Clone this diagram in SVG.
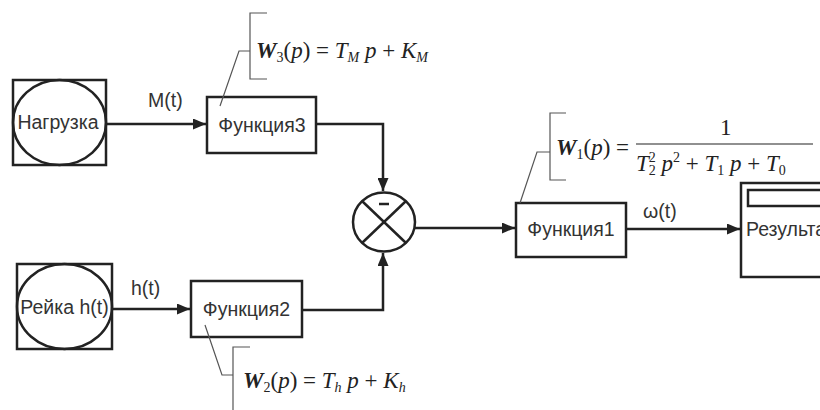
<svg xmlns="http://www.w3.org/2000/svg" width="820" height="410" viewBox="0 0 820 410">
<defs>
<marker id="ah" markerWidth="13" markerHeight="11" refX="13" refY="5.5" orient="auto" markerUnits="userSpaceOnUse">
<path d="M0,0 L13,5.5 L0,11 Z" fill="#222"/>
</marker>
<style>
.bx{fill:#fff;stroke:#222;stroke-width:2.5}
.ln{fill:none;stroke:#222;stroke-width:2.5}
.ann{fill:none;stroke:#555;stroke-width:1.2}
.t{font-family:"Liberation Sans",Arial,sans-serif;font-size:19.5px;fill:#333}
.f{font-family:"Liberation Serif","Times New Roman",serif;font-size:23px;fill:#222}
.i{font-style:italic}
.s{font-size:14px}
</style>
</defs>
<rect width="820" height="410" fill="#fff"/>
<g id="connectors">
<line class="ln" x1="106" y1="124" x2="206" y2="124" marker-end="url(#ah)"/>
<polyline class="ln" points="316,124 383,124 383,191" marker-end="url(#ah)"/>
<line class="ln" x1="112" y1="309" x2="190" y2="309" marker-end="url(#ah)"/>
<polyline class="ln" points="302,310 383,310 383,253" marker-end="url(#ah)"/>
<line class="ln" x1="415" y1="228" x2="515" y2="228" marker-end="url(#ah)"/>
<line class="ln" x1="626" y1="229" x2="740" y2="229" marker-end="url(#ah)"/>
<text class="t" x="148" y="107">M(t)</text>
<text class="t" x="131" y="295">h(t)</text>
<text class="t" x="643" y="218">ω(t)</text>
</g>
<g id="nagruzka">
<rect class="bx" x="13" y="80" width="93" height="85"/>
<ellipse class="ln" cx="59.5" cy="122.5" rx="46.5" ry="42.5"/>
<text class="t" x="58" y="129" text-anchor="middle">Нагрузка</text>
</g>
<g id="reika">
<rect class="bx" x="17" y="264" width="95" height="85"/>
<ellipse class="ln" cx="64.5" cy="306.5" rx="47.5" ry="42.5"/>
<text class="t" x="64.5" y="314" text-anchor="middle" font-size="18px">Рейка h(t)</text>
</g>
<g id="func3">
<rect class="bx" x="207" y="97" width="109" height="56"/>
<text class="t" x="262" y="132" text-anchor="middle">Функция3</text>
</g>
<g id="func2">
<rect class="bx" x="191" y="281" width="111" height="56"/>
<text class="t" x="246.5" y="316" text-anchor="middle">Функция2</text>
</g>
<g id="sum">
<ellipse class="ln" cx="384" cy="222" rx="31" ry="29.5"/>
<line class="ln" x1="362" y1="201" x2="406" y2="243"/>
<line class="ln" x1="406" y1="201" x2="362" y2="243"/>
<line x1="379" y1="204" x2="389" y2="204" stroke="#222" stroke-width="2.5"/>
</g>
<g id="func1">
<rect class="bx" x="516" y="203" width="110" height="54"/>
<text class="t" x="571" y="236" text-anchor="middle">Функция1</text>
</g>
<g id="result">
<rect class="bx" x="741" y="183" width="100" height="94"/>
<rect class="bx" x="748" y="190" width="90" height="16"/>
<text class="t" x="746" y="236">Результат</text>
</g>
<g id="w3">
<polyline class="ann" points="267,13 250,13 250,79 267,79"/>
<polyline class="ann" points="250,51 239,51 220,106"/>
<text class="f" x="256" y="58"><tspan class="i" font-weight="bold">W</tspan><tspan class="s" dy="4">3</tspan><tspan dy="-4">(</tspan><tspan class="i">p</tspan><tspan>) = </tspan><tspan class="i">T</tspan><tspan class="s i" dy="4">M</tspan><tspan class="i" dy="-4"> p</tspan><tspan> + </tspan><tspan class="i">K</tspan><tspan class="s i" dy="4">M</tspan></text>
</g>
<g id="w1">
<polyline class="ann" points="566,113 550,113 550,180 566,180"/>
<polyline class="ann" points="550,152 537,152 520,203"/>
<text class="f" x="556" y="155"><tspan class="i" font-weight="bold">W</tspan><tspan class="s" dy="4">1</tspan><tspan dy="-4">(</tspan><tspan class="i">p</tspan><tspan>) =</tspan></text>
<text class="f" x="720" y="135">1</text>
<line x1="636" y1="144" x2="813" y2="144" stroke="#222" stroke-width="1.2"/>
<text class="f" x="636" y="171"><tspan class="i">T</tspan><tspan class="s" dy="4">2</tspan><tspan class="s" dx="-7" dy="-13">2</tspan><tspan class="i" dy="9"> p</tspan><tspan class="s" dy="-9">2</tspan><tspan dy="9"> + </tspan><tspan class="i">T</tspan><tspan class="s" dy="4">1</tspan><tspan class="i" dy="-4">  p</tspan><tspan> + </tspan><tspan class="i">T</tspan><tspan class="s" dy="4">0</tspan></text>
</g>
<g id="w2">
<polyline class="ann" points="250,347 233,347 233,410"/>
<polyline class="ann" points="233,375 222,375 205,325"/>
<text class="f" x="243" y="388"><tspan class="i" font-weight="bold">W</tspan><tspan class="s" dy="4">2</tspan><tspan dy="-4">(</tspan><tspan class="i">p</tspan><tspan>) = </tspan><tspan class="i">T</tspan><tspan class="s i" dy="4">h</tspan><tspan class="i" dy="-4"> p</tspan><tspan> + </tspan><tspan class="i">K</tspan><tspan class="s i" dy="4">h</tspan></text>
</g>
</svg>
